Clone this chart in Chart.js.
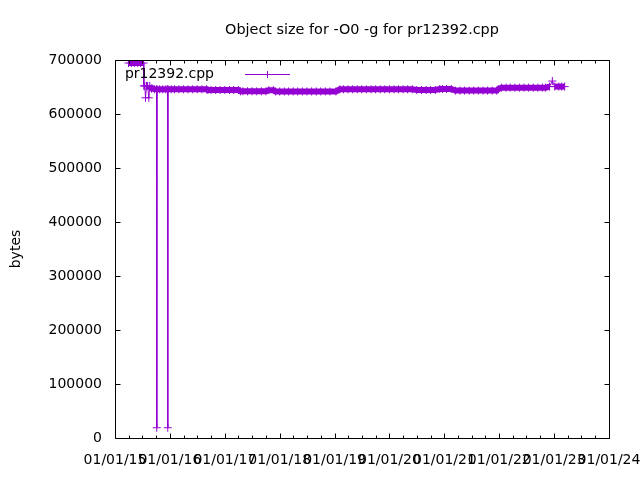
<!DOCTYPE html>
<html>
<head>
<meta charset="utf-8">
<script src="https://cdn.jsdelivr.net/npm/chart.js@4/dist/chart.umd.min.js"></script>
<style>
  html, body { margin: 0; padding: 0; background: #fff; }
  #wrap { width: 640px; height: 480px; }
</style>
</head>
<body>
<div id="wrap"><canvas id="c" width="640" height="480"></canvas></div>
<script>
// ---- data ----
const chartTitle = 'Object size for -O0 -g for pr12392.cpp';
const seriesName = 'pr12392.cpp';
const yAxisTitle = 'bytes';
const tickYears = [2015, 2016, 2017, 2018, 2019, 2020, 2021, 2022, 2023, 2024];
const tickLabels = ['01/01/15', '01/01/16', '01/01/17', '01/01/18', '01/01/19', '01/01/20', '01/01/21', '01/01/22', '01/01/23', '01/01/24'];
const yTicks = [0, 100000, 200000, 300000, 400000, 500000, 600000, 700000];

const dates = [
  '2015-04-01', '2015-04-20', '2015-05-10', '2015-06-01', '2015-06-20', '2015-07-10',
  '2015-07-12', '2015-07-18', '2015-07-23', '2015-07-30', '2015-08-06', '2015-08-14',
  '2015-08-20', '2015-09-01', '2015-09-20', '2015-10-05', '2015-10-06', '2015-10-08',
  '2015-10-25', '2015-11-15', '2015-12-05', '2015-12-17', '2015-12-18', '2015-12-20',
  '2016-01-10', '2016-02-01', '2016-03-01', '2016-04-01', '2016-05-01', '2016-06-01',
  '2016-07-01', '2016-08-01', '2016-09-01', '2016-09-10', '2016-10-01', '2016-11-01',
  '2016-12-01', '2017-01-01', '2017-02-01', '2017-03-01', '2017-04-01', '2017-04-15',
  '2017-05-01', '2017-06-01', '2017-07-01', '2017-08-01', '2017-09-01', '2017-10-01',
  '2017-10-20', '2017-11-20', '2017-12-05', '2018-01-01', '2018-02-01', '2018-03-01',
  '2018-04-01', '2018-05-01', '2018-06-01', '2018-07-01', '2018-08-01', '2018-09-01',
  '2018-10-01', '2018-11-01', '2018-12-01', '2019-01-10', '2019-02-05', '2019-03-01',
  '2019-04-01', '2019-05-01', '2019-06-01', '2019-07-01', '2019-08-01', '2019-09-01',
  '2019-10-01', '2019-11-01', '2019-12-01', '2020-01-01', '2020-02-01', '2020-03-01',
  '2020-04-01', '2020-05-01', '2020-06-01', '2020-07-01', '2020-08-01', '2020-09-01',
  '2020-10-01', '2020-11-01', '2020-12-01', '2020-12-20', '2021-01-15', '2021-02-15',
  '2021-03-15', '2021-04-15', '2021-05-15', '2021-06-15', '2021-07-15', '2021-08-15',
  '2021-09-15', '2021-10-15', '2021-11-15', '2021-12-15', '2021-12-25', '2022-01-15',
  '2022-02-15', '2022-03-15', '2022-04-15', '2022-05-15', '2022-06-15', '2022-07-15',
  '2022-08-15', '2022-09-15', '2022-10-15', '2022-11-05', '2022-12-01', '2022-12-20',
  '2023-01-05', '2023-02-01', '2023-02-20', '2023-03-12'
];
const sizes = [
  694400, 694400, 694400, 694400, 694400, 694400,
  652000, 652000, 630000, 652000, 652000, 630000,
  652000, 647000, 646000, 645700, 19000, 645700,
  645700, 645700, 645700, 645700, 19000, 645700,
  645700, 645700, 645700, 645700, 645700, 645700,
  645700, 645700, 645700, 644400, 644400, 644400,
  644400, 644400, 644400, 644400, 644400, 642000,
  642000, 642000, 642000, 642000, 642000, 642000,
  644000, 644000, 641700, 641700, 641700, 641700,
  641700, 641700, 641700, 641700, 641700, 641700,
  641700, 641700, 641700, 641700, 645700, 645700,
  645700, 645700, 645700, 645700, 645700, 645700,
  645700, 645700, 645700, 645700, 645700, 645700,
  645700, 645700, 645700, 644400, 644400, 644400,
  644400, 644400, 646300, 646300, 646300, 646300,
  643300, 643300, 643300, 643300, 643300, 643300,
  643300, 643300, 643300, 643300, 646000, 648800,
  648800, 648800, 648800, 648800, 648800, 648800,
  648800, 648800, 648800, 648800, 650700, 661000,
  650700, 650700, 650700, 650700
];

// ---- build chart ----
const toMs = s => Date.parse(s + 'T00:00:00Z');
const points = dates.map((d, i) => ({ x: toMs(d), y: sizes[i] }));
const yearMs = tickYears.map(y => Date.UTC(y, 0, 1));
const minorMs = [];
tickYears.slice(0, -1).forEach(y => { [3, 6, 9].forEach(m => minorMs.push(Date.UTC(y, m, 1))); });

const FONT = 'DejaVu Sans';
const COLOR = '#9400d3';

const framePlugin = {
  id: 'frame',
  afterDraw(chart) {
    const { ctx, chartArea: a, scales } = chart;
    const xs = scales.x, ys = scales.y;
    ctx.save();
    ctx.strokeStyle = '#000';
    ctx.lineWidth = 1;
    ctx.beginPath();
    const L = Math.round(a.left) + 0.5, R = Math.round(a.right) + 0.5;
    const T = Math.round(a.top) + 0.5, B = Math.round(a.bottom) + 0.5;
    ctx.rect(L, T, R - L, B - T);
    const maj = 5, min = 3;
    yearMs.forEach(v => {
      const px = Math.round(xs.getPixelForValue(v)) + 0.5;
      ctx.moveTo(px, B); ctx.lineTo(px, B - maj);
      ctx.moveTo(px, T); ctx.lineTo(px, T + maj);
    });
    minorMs.forEach(v => {
      const px = Math.round(xs.getPixelForValue(v)) + 0.5;
      ctx.moveTo(px, B); ctx.lineTo(px, B - min);
      ctx.moveTo(px, T); ctx.lineTo(px, T + min);
    });
    yTicks.forEach(v => {
      const py = Math.round(ys.getPixelForValue(v)) + 0.5;
      ctx.moveTo(L, py); ctx.lineTo(L + maj, py);
      ctx.moveTo(R, py); ctx.lineTo(R - maj, py);
    });
    ctx.stroke();

    // key (legend)
    ctx.fillStyle = '#000';
    ctx.font = '14px "' + FONT + '"';
    ctx.textAlign = 'right';
    ctx.textBaseline = 'middle';
    ctx.fillText(seriesName, 214, 74);
    ctx.strokeStyle = COLOR;
    ctx.beginPath();
    ctx.moveTo(245, 74.5); ctx.lineTo(290, 74.5);
    ctx.moveTo(267.5, 71); ctx.lineTo(267.5, 78);
    ctx.stroke();
    ctx.restore();
  }
};

new Chart(document.getElementById('c'), {
  type: 'line',
  data: {
    datasets: [{
      label: seriesName,
      data: points,
      borderColor: COLOR,
      backgroundColor: COLOR,
      borderWidth: 1,
      borderCapStyle: 'butt',
      borderJoinStyle: 'miter',
      segment: {
        // dense runs of nearly equal builds form the thick band; big jumps stay thin lines
        borderWidth: c => Math.abs(c.p0.parsed.y - c.p1.parsed.y) < 6000 ? 6 : 1
      },
      pointStyle: 'cross',
      pointRadius: 4,
      pointBorderWidth: 1,
      pointBorderColor: COLOR,
      pointHoverRadius: 4,
      tension: 0,
      fill: false
    }]
  },
  options: {
    responsive: false,
    animation: false,
    devicePixelRatio: 1,
    layout: { padding: { top: 0, right: 31, left: 0, bottom: 0 } },
    plugins: {
      legend: { display: false },
      tooltip: { enabled: false },
      title: {
        display: true,
        text: chartTitle,
        fullSize: false,
        color: '#000',
        font: { family: FONT, size: 14.4, weight: 'normal', lineHeight: 1.2 },
        padding: { top: 21.5, bottom: 21.2 }
      }
    },
    scales: {
      x: {
        type: 'linear',
        min: yearMs[0],
        max: yearMs[yearMs.length - 1],
        afterBuildTicks: s => { s.ticks = yearMs.map(v => ({ value: v })); },
        afterFit: s => { s.height = 42; s.paddingLeft = 0; s.paddingRight = 0; },
        grid: { display: false, drawTicks: false },
        border: { display: false },
        ticks: {
          autoSkip: false,
          maxRotation: 0,
          minRotation: 0,
          padding: 14,
          color: '#000',
          font: { family: FONT, size: 14 },
          callback: (v) => { const i = yearMs.indexOf(v); return i >= 0 ? tickLabels[i] : ''; }
        }
      },
      y: {
        type: 'linear',
        min: 0,
        max: 700000,
        afterBuildTicks: s => { s.ticks = yTicks.map(v => ({ value: v })); },
        afterFit: s => { s.width = 115; s.paddingTop = 0; s.paddingBottom = 0; },
        grid: { display: false, drawTicks: false },
        border: { display: false },
        title: {
          display: true,
          text: yAxisTitle,
          color: '#000',
          font: { family: FONT, size: 14 },
          padding: { top: 8, bottom: 0 }
        },
        ticks: {
          padding: 13,
          color: '#000',
          font: { family: FONT, size: 14 },
          callback: v => String(v)
        }
      }
    }
  },
  plugins: [framePlugin]
});
</script>
</body>
</html>
